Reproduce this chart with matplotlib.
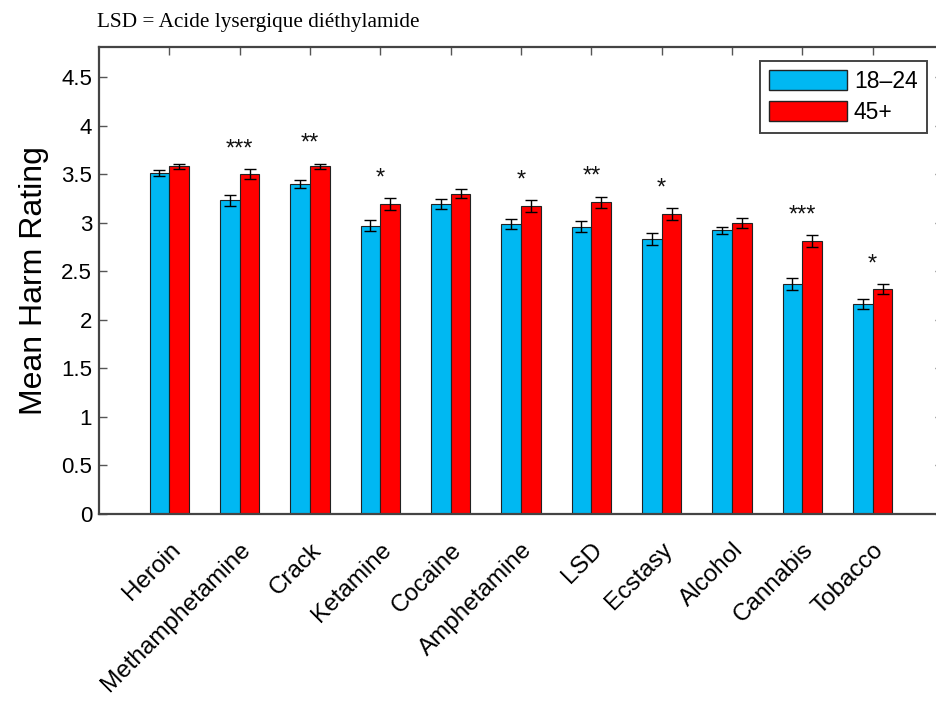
import numpy as np
import matplotlib
matplotlib.use("Agg")
import matplotlib.pyplot as plt
from matplotlib.patches import Patch

# Mean harm ratings by age group
drugs = ["Heroin", "Methamphetamine", "Crack", "Ketamine", "Cocaine",
         "Amphetamine", "LSD", "Ecstasy", "Alcohol", "Cannabis", "Tobacco"]
young_mean = [3.51, 3.23, 3.40, 2.97, 3.19, 2.99, 2.96, 2.83, 2.92, 2.37, 2.16]
young_err = [0.03, 0.06, 0.04, 0.06, 0.05, 0.05, 0.06, 0.06, 0.04, 0.06, 0.05]
old_mean = [3.58, 3.50, 3.58, 3.19, 3.30, 3.17, 3.21, 3.09, 3.00, 2.81, 2.32]
old_err = [0.03, 0.05, 0.03, 0.06, 0.05, 0.06, 0.06, 0.06, 0.05, 0.06, 0.05]
significance = ["", "***", "**", "*", "", "*", "**", "*", "", "***", "*"]
series_labels = ["18\u201324", "45+"]
y_ticks = [0, 0.5, 1, 1.5, 2, 2.5, 3, 3.5, 4, 4.5]
y_tick_labels = ["0", "0.5", "1", "1.5", "2", "2.5", "3", "3.5", "4", "4.5"]

blue = "#00B8F2"
red = "#FF0000"
sans = ["Liberation Sans", "DejaVu Sans"]

fig = plt.figure(figsize=(9.36, 7.09), dpi=100)
ax = fig.add_axes([99 / 936, 1 - 514 / 709, (943 - 99) / 936, (514 - 47) / 709])

x = np.arange(1, len(drugs) + 1)
w = 0.28
err_kw = dict(ecolor="black", elinewidth=1.0, capsize=4.5, capthick=1.0)
ax.bar(x - w / 2, young_mean, w, yerr=young_err, color=blue,
       edgecolor="#222222", linewidth=0.8, error_kw=err_kw, zorder=2)
ax.bar(x + w / 2, old_mean, w, yerr=old_err, color=red,
       edgecolor="#222222", linewidth=0.8, error_kw=err_kw, zorder=2)

for xi, m, e, s in zip(x, old_mean, old_err, significance):
    if s:
        ax.text(xi, m + e + 0.09, s, ha="center", va="bottom",
                fontsize=17, family=sans, color="#111111")

ax.set_xlim(0, 12)
ax.set_ylim(0, 4.81)
ax.set_yticks(y_ticks)
ax.set_yticklabels(y_tick_labels, fontsize=16, family=sans)
ax.set_xticks(x)
ax.set_xticklabels(drugs, rotation=45, ha="right", va="top",
                   rotation_mode="anchor", fontsize=17.5, family=sans)
ax.tick_params(direction="in", length=6, width=1.0, color="#555555",
               top=True, right=True)
ax.tick_params(axis="y", pad=5)
ax.tick_params(axis="x", pad=18)
for sp in ax.spines.values():
    sp.set_color("#444444")
    sp.set_linewidth(1.6)

ax.set_ylabel("Mean Harm Rating", fontsize=23, family=sans, labelpad=9)

handles = [Patch(facecolor=blue, edgecolor="#222222"),
           Patch(facecolor=red, edgecolor="#222222")]
leg = ax.legend(handles, series_labels, loc="upper left",
                bbox_to_anchor=(760 / 936, 1 - 61 / 709),
                bbox_transform=fig.transFigure,
                prop={"family": sans, "size": 16.5},
                handlelength=3.4, handleheight=0.95, handletextpad=0.3,
                borderpad=0.4, borderaxespad=0, labelspacing=0.35,
                fancybox=False, edgecolor="#444444", framealpha=1)
leg.get_frame().set_linewidth(1.4)

fig.text(97 / 936, 1 - 22 / 709, "LSD = Acide lysergique di\u00e9thylamide",
         family=["Liberation Serif", "DejaVu Serif"], fontsize=15.3,
         ha="left", va="center")

fig.savefig("out.png", dpi=100)
